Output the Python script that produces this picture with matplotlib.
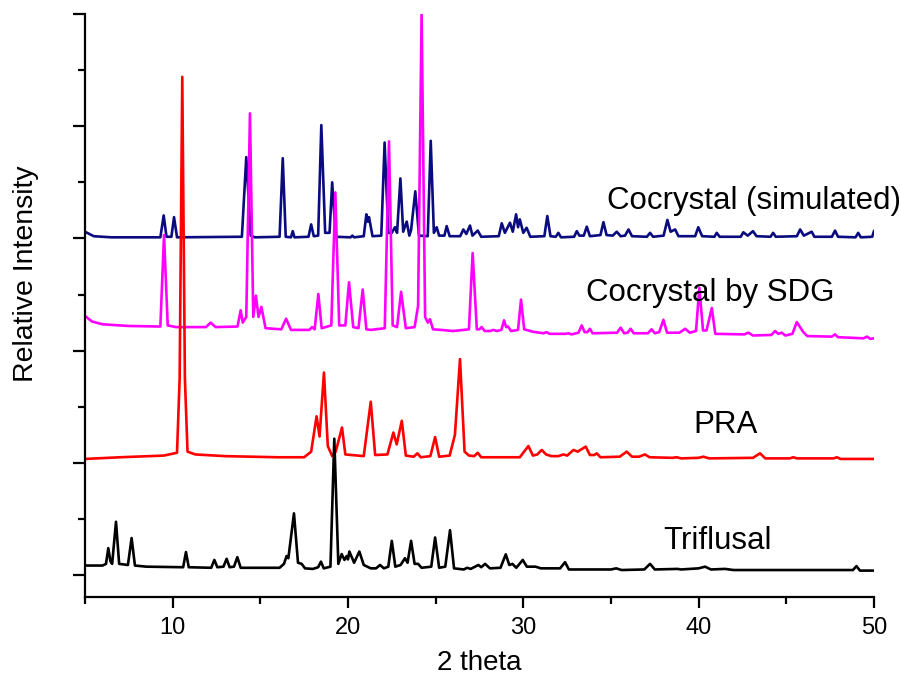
import matplotlib
matplotlib.use('Agg')
import matplotlib.pyplot as plt
from matplotlib.ticker import MultipleLocator

plt.rcParams['font.family'] = ['Liberation Sans', 'DejaVu Sans']

# traced vertices (2 theta, stacked intensity) for each pattern
simulated = [(5.0, 6.12), (5.5, 6.04), (6.5, 6.02), (9.3, 6.02), (9.49, 6.41), (9.65, 6.03), (9.93, 6.03),
             (10.08, 6.38), (10.25, 6.02), (13.95, 6.03), (14.2, 7.45), (14.45, 6.05), (14.7, 6.02),
             (16.1, 6.03), (16.28, 7.43), (16.45, 6.03), (16.75, 6.02), (16.85, 6.13), (16.95, 6.02),
             (17.75, 6.03), (17.9, 6.25), (18.05, 6.04), (18.3, 6.05), (18.48, 8.02), (18.7, 6.1),
             (18.95, 6.1), (19.1, 7.0), (19.3, 6.03), (20.15, 6.02), (20.25, 6.05), (20.35, 6.02),
             (20.9, 6.04), (21.05, 6.43), (21.13, 6.3), (21.2, 6.38), (21.4, 6.04), (21.9, 6.05),
             (22.09, 7.71), (22.3, 6.1), (22.5, 6.1), (22.68, 6.2), (22.8, 6.1), (22.99, 7.07), (23.15, 6.12),
             (23.35, 6.3), (23.5, 6.05), (23.6, 6.15), (23.84, 6.84), (24.05, 6.05), (24.55, 6.04),
             (24.72, 7.74), (24.9, 6.1), (25.06, 6.2), (25.2, 6.05), (25.5, 6.05), (25.63, 6.22), (25.8, 6.04),
             (26.4, 6.04), (26.58, 6.16), (26.75, 6.08), (26.96, 6.23), (27.1, 6.05), (27.4, 6.14), (27.6, 6.03),
             (28.6, 6.04), (28.77, 6.27), (28.95, 6.1), (29.24, 6.28), (29.4, 6.12), (29.59, 6.43), (29.7, 6.2),
             (29.8, 6.34), (30.0, 6.1), (30.19, 6.19), (30.4, 6.03), (31.2, 6.04), (31.37, 6.4), (31.55, 6.04),
             (31.85, 6.03), (32.0, 6.1), (32.15, 6.02), (32.9, 6.03), (33.05, 6.13), (33.2, 6.05), (33.45, 6.05),
             (33.62, 6.21), (33.8, 6.04), (34.4, 6.06), (34.57, 6.29), (34.75, 6.06), (35.1, 6.05), (35.33, 6.12),
             (35.55, 6.04), (35.8, 6.05), (36.0, 6.16), (36.2, 6.04), (37.05, 6.03), (37.23, 6.1), (37.4, 6.03),
             (38.0, 6.05), (38.22, 6.33), (38.4, 6.12), (38.66, 6.16), (38.85, 6.04), (39.8, 6.04), (39.98, 6.2),
             (40.2, 6.04), (40.9, 6.03), (41.03, 6.1), (41.2, 6.03), (42.4, 6.03), (42.55, 6.11), (42.8, 6.05),
             (43.1, 6.13), (43.3, 6.04), (44.1, 6.03), (44.25, 6.1), (44.4, 6.03), (45.6, 6.04), (45.79, 6.16),
             (46.0, 6.05), (46.45, 6.12), (46.6, 6.03), (47.6, 6.03), (47.78, 6.14), (47.95, 6.03),
             (48.95, 6.02), (49.1, 6.1), (49.25, 6.02), (49.9, 6.03), (50.0, 6.13)]

sdg = [(5.0, 4.62), (5.4, 4.52), (6.0, 4.47), (7.5, 4.44), (9.3, 4.43), (9.51, 6.06), (9.72, 4.45), (10.2, 4.42),
       (11.9, 4.42), (12.17, 4.5), (12.45, 4.42), (13.7, 4.43), (13.88, 4.72), (14.0, 4.5), (14.2, 4.6),
       (14.41, 8.23), (14.6, 4.6), (14.75, 4.98), (14.9, 4.6), (15.06, 4.78), (15.3, 4.4), (16.2, 4.38),
       (16.47, 4.57), (16.75, 4.37), (17.8, 4.37), (17.95, 4.42), (18.1, 4.38), (18.31, 5.01), (18.5, 4.4),
       (19.05, 4.45), (19.28, 6.82), (19.5, 4.45), (19.85, 4.45), (20.06, 5.22), (20.3, 4.42), (20.6, 4.4),
       (20.84, 5.09), (21.05, 4.38), (21.3, 4.37), (22.1, 4.4), (22.34, 7.73), (22.55, 4.45), (22.8, 4.42),
       (23.03, 5.05), (23.3, 4.4), (23.8, 4.42), (24.0, 4.8), (24.2, 10.0), (24.4, 4.6), (24.55, 4.5),
       (24.68, 4.56), (24.85, 4.38), (25.3, 4.37), (26.0, 4.35), (26.9, 4.38), (27.11, 5.74), (27.35, 4.38),
       (27.5, 4.38), (27.62, 4.42), (27.8, 4.35), (28.1, 4.35), (28.29, 4.37), (28.5, 4.35), (28.75, 4.37),
       (28.9, 4.54), (29.02, 4.42), (29.13, 4.43), (29.3, 4.35), (29.7, 4.37), (29.87, 4.91), (30.05, 4.38),
       (30.3, 4.36), (30.5, 4.34), (31.15, 4.31), (31.33, 4.33), (31.5, 4.3), (32.4, 4.3), (32.57, 4.31),
       (32.75, 4.29), (33.15, 4.32), (33.33, 4.45), (33.5, 4.33), (33.65, 4.33), (33.8, 4.39), (33.95, 4.31),
       (35.35, 4.32), (35.55, 4.41), (35.75, 4.31), (35.95, 4.32), (36.12, 4.39), (36.3, 4.31), (37.1, 4.31),
       (37.32, 4.38), (37.5, 4.31), (37.75, 4.33), (37.99, 4.55), (38.2, 4.32), (38.9, 4.32), (39.23, 4.39),
       (39.5, 4.32), (39.85, 4.35), (40.04, 5.12), (40.25, 4.36), (40.45, 4.36), (40.75, 4.76), (40.95, 4.3),
       (42.6, 4.29), (42.84, 4.32), (43.1, 4.27), (44.15, 4.28), (44.36, 4.35), (44.55, 4.3), (44.74, 4.32),
       (44.95, 4.27), (45.35, 4.3), (45.6, 4.51), (45.97, 4.33), (46.2, 4.26), (47.6, 4.25), (47.78, 4.29),
       (47.95, 4.24), (49.4, 4.22), (49.6, 4.25), (49.8, 4.21), (50.0, 4.22)]

pra = [(5.0, 2.07), (7.0, 2.1), (9.5, 2.13), (10.25, 2.18), (10.4, 3.5), (10.55, 8.88), (10.7, 3.5), (10.85, 2.2),
       (11.3, 2.15), (13.0, 2.12), (16.0, 2.1), (17.5, 2.1), (17.9, 2.2), (18.21, 2.83), (18.38, 2.47),
       (18.63, 3.61), (18.85, 2.3), (19.1, 2.12), (19.3, 2.2), (19.66, 2.63), (19.85, 2.15), (20.9, 2.12),
       (21.3, 3.09), (21.55, 2.14), (22.25, 2.15), (22.59, 2.54), (22.78, 2.33), (23.07, 2.75), (23.3, 2.13),
       (23.75, 2.11), (23.96, 2.17), (24.15, 2.1), (24.7, 2.12), (24.97, 2.46), (25.2, 2.11), (25.8, 2.13),
       (26.1, 2.5), (26.39, 3.85), (26.65, 2.2), (26.9, 2.13), (27.2, 2.12), (27.4, 2.18), (27.6, 2.1),
       (29.8, 2.1), (30.29, 2.3), (30.55, 2.13), (30.8, 2.15), (31.05, 2.23), (31.3, 2.15), (31.6, 2.12),
       (32.0, 2.12), (32.29, 2.15), (32.5, 2.13), (32.86, 2.23), (33.1, 2.2), (33.56, 2.29), (33.8, 2.14),
       (34.05, 2.14), (34.19, 2.17), (34.4, 2.1), (35.5, 2.11), (35.9, 2.2), (36.2, 2.11), (36.6, 2.11),
       (36.94, 2.15), (37.2, 2.1), (38.5, 2.09), (38.75, 2.1), (39.0, 2.08), (40.0, 2.09), (40.27, 2.11),
       (40.6, 2.08), (43.1, 2.09), (43.5, 2.17), (43.8, 2.08), (45.2, 2.08), (45.4, 2.1), (45.6, 2.08),
       (47.7, 2.08), (47.88, 2.1), (48.1, 2.07), (50.0, 2.07)]

triflusal = [(5.0, 0.17), (6.0, 0.17), (6.2, 0.2), (6.33, 0.48), (6.45, 0.25), (6.55, 0.2), (6.77, 0.95),
             (6.95, 0.2), (7.45, 0.18), (7.66, 0.66), (7.85, 0.17), (8.5, 0.15), (10.6, 0.14), (10.76, 0.41),
             (10.92, 0.14), (12.2, 0.13), (12.38, 0.27), (12.55, 0.14), (12.9, 0.15), (13.08, 0.29),
             (13.25, 0.14), (13.5, 0.15), (13.69, 0.32), (13.88, 0.13), (16.1, 0.13), (16.35, 0.2), (16.5, 0.34),
             (16.6, 0.3), (16.92, 1.1), (17.15, 0.22), (17.36, 0.2), (17.55, 0.12), (18.0, 0.11), (18.3, 0.14),
             (18.46, 0.24), (18.62, 0.12), (19.0, 0.15), (19.22, 2.43), (19.45, 0.2), (19.64, 0.375),
             (19.8, 0.27), (19.93, 0.34), (20.0, 0.28), (20.08, 0.42), (20.35, 0.22), (20.65, 0.42),
             (20.9, 0.18), (21.3, 0.12), (21.6, 0.12), (21.83, 0.18), (22.05, 0.12), (22.3, 0.15), (22.5, 0.61),
             (22.7, 0.15), (23.0, 0.18), (23.25, 0.3), (23.4, 0.22), (23.6, 0.61), (23.8, 0.2), (24.0, 0.2),
             (24.2, 0.13), (24.75, 0.15), (24.97, 0.67), (25.2, 0.13), (25.55, 0.15), (25.82, 0.8),
             (26.05, 0.12), (26.6, 0.1), (26.8, 0.13), (27.0, 0.11), (27.44, 0.18), (27.6, 0.14), (27.82, 0.2),
             (28.1, 0.12), (28.7, 0.13), (29.0, 0.37), (29.2, 0.18), (29.38, 0.2), (29.6, 0.13), (29.97, 0.27),
             (30.2, 0.15), (30.7, 0.15), (31.0, 0.12), (32.1, 0.12), (32.38, 0.23), (32.6, 0.1), (35.0, 0.1),
             (35.3, 0.12), (35.6, 0.09), (36.9, 0.1), (37.23, 0.2), (37.5, 0.1), (38.8, 0.11), (39.0, 0.1),
             (40.0, 0.12), (40.37, 0.15), (40.7, 0.1), (41.5, 0.11), (42.0, 0.09), (48.8, 0.09), (49.0, 0.16),
             (49.2, 0.08), (50.0, 0.08)]

names = ['Cocrystal (simulated)', 'Cocrystal by SDG', 'PRA', 'Triflusal']
colors = ['#0b0b80', '#ff00ff', '#ff0000', '#000000']
# label baseline anchor (x, y) in data coordinates
label_pos = [(34.78, 6.52), (33.58, 4.88), (39.68, 2.53), (37.97, 0.46)]

fig = plt.figure(figsize=(9.01, 6.84), dpi=100)
ax = fig.add_axes([0.0943, 0.127, 0.8757, 0.8525])

for pts, c in zip([simulated, sdg, pra, triflusal], colors):
    xs, ys = zip(*pts)
    ax.plot(xs, ys, color=c, linewidth=1.9, solid_joinstyle='round')

for name, (lx, ly) in zip(names, label_pos):
    ax.text(lx, ly, name, fontsize=22.5, va='baseline', ha='left', clip_on=False)

ax.set_xlim(5, 50)
ax.set_ylim(-0.393, 10)
ax.xaxis.set_major_locator(MultipleLocator(10))
ax.xaxis.set_minor_locator(MultipleLocator(5))
ax.yaxis.set_major_locator(MultipleLocator(2))
ax.yaxis.set_minor_locator(MultipleLocator(1))
ax.set_yticklabels([])
ax.tick_params(which='major', direction='out', length=9, width=1.6, labelsize=17, pad=6)
ax.tick_params(which='minor', direction='out', length=5, width=1.6)
ax.tick_params(axis='x', which='major', length=8)
for s in ['top', 'right']:
    ax.spines[s].set_visible(False)
for s in ['left', 'bottom']:
    ax.spines[s].set_linewidth(1.6)

ax.set_xlabel('2 theta', fontsize=20, labelpad=8)
ax.set_ylabel('Relative Intensity', fontsize=20.5)
ax.yaxis.set_label_coords(-0.058, 0.555)

fig.savefig('out.png', dpi=100)
